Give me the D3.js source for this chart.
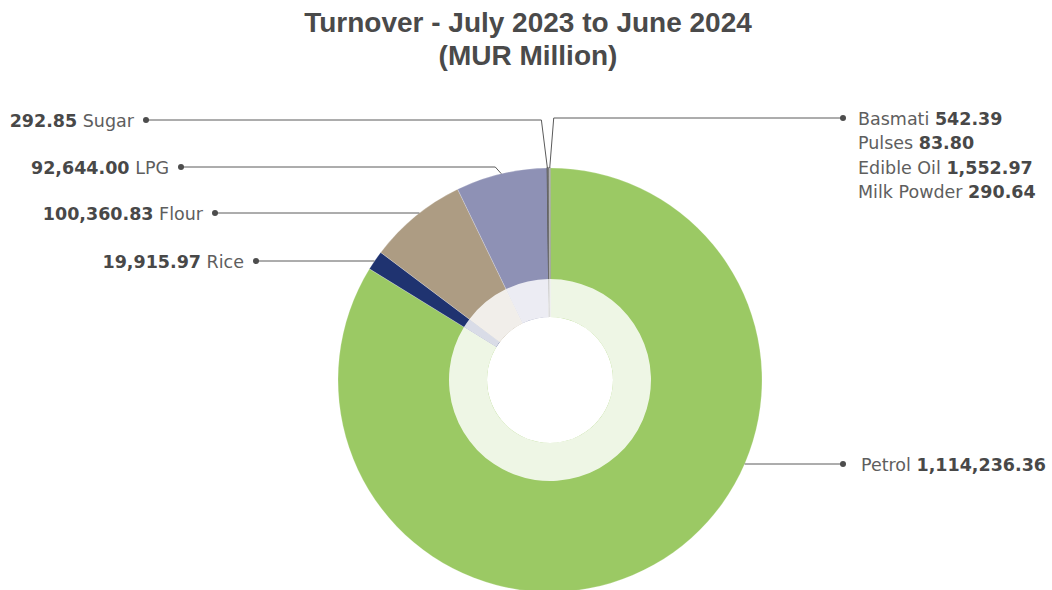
<!DOCTYPE html>
<html>
<head>
<meta charset="utf-8">
<script src="https://cdn.jsdelivr.net/npm/d3@7"></script>
<style>
  html, body { margin: 0; padding: 0; background: #fff; }
  svg { display: block; }
  text.title { font-family: "Liberation Sans", Arial, Helvetica, sans-serif; }
  text.label { font-family: "DejaVu Sans", Verdana, sans-serif; }
</style>
</head>
<body>
<svg id="chart" width="1052" height="590"></svg>
<script>
// Turnover by product, MUR million (clockwise from 12 o'clock)
const categories = ["Petrol", "Rice", "Flour", "LPG", "Sugar", "Milk Powder", "Edible Oil", "Pulses", "Basmati"];
const values = [1114236.36, 19915.97, 100360.83, 92644.00, 292.85, 290.64, 1552.97, 83.80, 542.39];
const colors = ["#9bc964", "#1f3370", "#ad9c83", "#8e91b5", "#4f4f4f", "#626262", "#6e6e6e", "#8c8c8c", "#b0b0b0"];

// Label callouts: side, vertical position and the items listed in each block
const callouts = [
  { anchor: "Sugar",  side: "left",  y: 120, items: [["Sugar"]] },
  { anchor: "LPG",    side: "left",  y: 167, items: [["LPG"]] },
  { anchor: "Flour",  side: "left",  y: 213, items: [["Flour"]] },
  { anchor: "Rice",   side: "left",  y: 261, items: [["Rice"]] },
  { anchor: "Basmati", side: "right", y: 118, items: [["Basmati"], ["Pulses"], ["Edible Oil"], ["Milk Powder"]] },
  { anchor: "Petrol", side: "right", y: 464, items: [["Petrol"]] }
];

const W = 1052, H = 590;
const cx = 550, cy = 380;
const R = 212, ringOuter = 101, ringInner = 63;
const leftDotX = { Sugar: 146, LPG: 181, Flour: 215, Rice: 256 };
const rightDotX = 843;
const lineGap = 24.5;

const data = categories.map((c, i) => ({ name: c, value: values[i], color: colors[i] }));
const fmt = d3.format(",.2f");
const valueOf = name => data.find(d => d.name === name).value;

const svg = d3.select("#chart");

// Title
const title = svg.append("text").attr("class", "title")
  .attr("x", 528).attr("text-anchor", "middle")
  .attr("fill", "#4a4a4a").attr("font-weight", 700).attr("font-size", 28);
title.append("tspan").attr("x", 528).attr("y", 32).text("Turnover - July 2023 to June 2024");
title.append("tspan").attr("x", 528).attr("y", 65).text("(MUR Million)");

const pie = d3.pie().value(d => d.value).sort(null);
const arcs = pie(data);

const g = svg.append("g").attr("transform", `translate(${cx},${cy})`);

const arc = d3.arc().innerRadius(0).outerRadius(R);
g.selectAll("path.slice").data(arcs).join("path")
  .attr("class", "slice")
  .attr("d", arc)
  .attr("fill", d => d.data.color)
  .attr("stroke", d => (d.endAngle - d.startAngle) < 0.02 ? d.data.color : "rgba(255,255,255,0.35)")
  .attr("stroke-width", d => (d.endAngle - d.startAngle) < 0.02 ? 1.2 : 0.6);

// Translucent inner band
const ring = d3.arc().innerRadius(ringInner).outerRadius(ringOuter);
g.selectAll("path.ring").data(arcs).join("path")
  .attr("class", "ring")
  .attr("d", ring)
  .attr("fill", "#fff")
  .attr("fill-opacity", 0.83);

// Hole
g.append("circle").attr("r", ringInner).attr("fill", "#fff");

// Leader lines
const arcByName = name => arcs.find(a => a.data.name === name);
const lines = svg.append("g").attr("fill", "none").attr("stroke", "#5a5a5a").attr("stroke-width", 1);
const dots = svg.append("g").attr("fill", "#4d4d4d");

function anchorPoint(a, labelY) {
  // try a horizontal run to the rim at the label height
  const dy = labelY - cy;
  if (Math.abs(dy) < R) {
    const sideSign = callouts.find(c => c.anchor === a.data.name).side === "left" ? -1 : 1;
    const dx = sideSign * Math.sqrt(R * R - dy * dy);
    let ang = Math.atan2(dx, -dy);
    if (ang < 0) ang += 2 * Math.PI;
    if (ang >= a.startAngle && ang <= a.endAngle) {
      return { x: cx + dx, y: labelY, straight: true };
    }
  }
  const mid = (a.startAngle + a.endAngle) / 2;
  return { x: cx + R * Math.sin(mid), y: cy - R * Math.cos(mid), straight: false };
}

callouts.forEach(c => {
  const a = arcByName(c.anchor);
  const p = anchorPoint(a, c.y);
  const dotX = c.side === "left" ? leftDotX[c.anchor] : rightDotX;
  const pts = [[dotX, c.y]];
  if (!p.straight) {
    const elbowX = c.side === "left" ? p.x - 6 : p.x + 4;
    pts.push([elbowX, c.y]);
  }
  pts.push([p.x, p.y]);
  lines.append("path").attr("d", d3.line()(pts));
  dots.append("circle").attr("cx", dotX).attr("cy", c.y).attr("r", 3);

  c.items.forEach((it, k) => {
    const name = it[0];
    const y = c.y + k * lineGap + 6.5;
    const t = svg.append("text").attr("class", "label").attr("y", y).attr("font-size", 17.5);
    if (c.side === "left") {
      t.attr("x", dotX - 12).attr("text-anchor", "end");
      t.append("tspan").attr("font-weight", 700).attr("fill", "#484848").text(fmt(valueOf(name)));
      t.append("tspan").attr("font-weight", 400).attr("fill", "#5e5e5e").text(" " + name);
    } else {
      t.attr("x", dotX + (c.anchor === "Petrol" ? 18 : 15)).attr("text-anchor", "start");
      t.append("tspan").attr("font-weight", 400).attr("fill", "#5e5e5e").text(name + " ");
      t.append("tspan").attr("font-weight", 700).attr("fill", "#484848").text(fmt(valueOf(name)));
    }
  });
});
</script>
</body>
</html>
